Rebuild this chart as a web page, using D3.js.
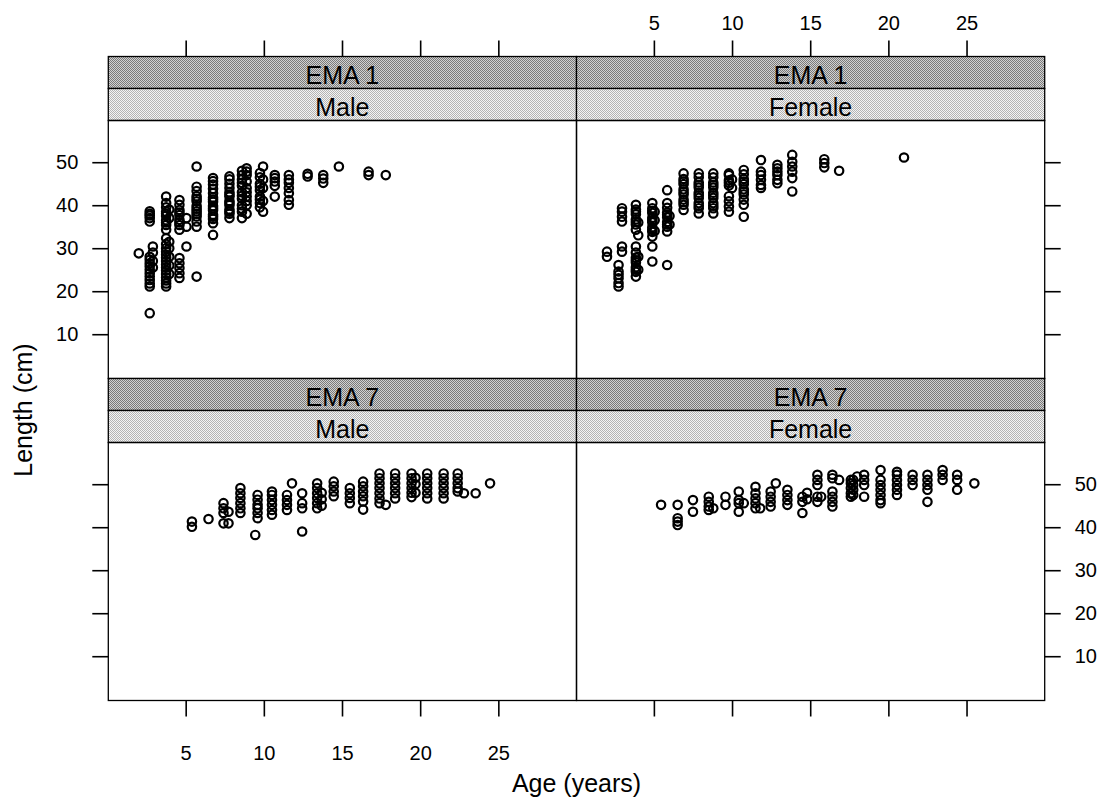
<!DOCTYPE html>
<html>
<head>
<meta charset="utf-8">
<script src="https://cdn.jsdelivr.net/npm/d3@7"></script>
<style>
  html, body { margin: 0; padding: 0; background: #fff; }
  svg { display: block; font-family: "Liberation Sans", Arial, sans-serif; }
</style>
</head>
<body>
<svg id="chart" width="1101" height="803"></svg>
<script>
// Age (years) vs length (cm), grouped by fishery area and sex.
// Each entry: [age, [lengths observed at that age]]
const ema1Male = [
  [2.0, [28.8]],
  [2.7, [14.9, 21.1, 21.8, 22.6, 23.4, 24.2, 25.0, 25.8, 26.5, 27.3, 28.0, 36.2, 37.0, 37.6, 38.0, 38.6]],
  [2.9, [25.5, 27.0, 29.0, 30.4]],
  [3.75, [21.1, 21.8, 22.5, 23.2, 24.0, 24.8, 25.5, 26.2, 27.0, 27.8, 28.5, 29.2, 30.0, 31.0, 32.3, 34.3, 35.4, 36.0, 36.5, 37.5, 38.0, 38.5, 39.5, 40.5, 42.0]],
  [3.95, [24.0, 26.0, 28.0, 30.0, 31.5, 37.0, 39.0]],
  [4.6, [23.1, 24.2, 25.4, 26.5, 27.7, 34.3, 35.4, 36.0, 36.6, 37.7, 38.3, 38.9, 40.1, 41.2]],
  [5.05, [30.4, 35.0, 37.0]],
  [5.7, [23.4, 35.0, 36.2, 37.4, 38.0, 38.6, 39.2, 39.8, 40.9, 41.5, 42.1, 43.3, 44.3, 49.0]],
  [6.75, [33.1, 35.8, 36.8, 37.3, 37.8, 38.8, 39.3, 39.8, 40.8, 41.3, 41.8, 42.8, 43.8, 44.8, 45.6, 46.3]],
  [7.8, [37.0, 38.0, 38.5, 39.0, 40.0, 40.5, 41.0, 42.0, 42.5, 43.0, 44.0, 45.0, 46.0, 46.7]],
  [8.6, [37.0, 38.5, 39.2, 40.0, 41.5, 42.2, 43.0, 44.5, 45.2, 46.0, 47.0, 48.0]],
  [8.9, [38.0, 40.0, 41.0, 42.0, 43.0, 44.0, 45.5, 47.0, 47.8, 48.6]],
  [9.75, [39.5, 40.5, 41.3, 42.0, 43.5, 44.3, 45.0, 46.5, 47.5]],
  [9.95, [38.5, 41.0, 44.0, 46.0, 49.0]],
  [10.7, [42.0, 44.5, 45.5, 46.3, 47.0]],
  [11.6, [40.1, 41.2, 42.8, 44.0, 45.2, 46.0, 47.0]],
  [12.8, [46.7, 47.3]],
  [13.8, [45.2, 46.2, 47.0]],
  [14.8, [49.0]],
  [16.7, [47.0, 47.8]],
  [17.8, [47.0]]
];

const ema1Female = [
  [2.0, [28.0, 29.2]],
  [2.74, [21.1, 21.9, 23.0, 23.8, 24.6, 26.1]],
  [2.96, [29.2, 30.4, 36.2, 37.3, 38.5, 39.3]],
  [3.85, [23.4, 24.5, 25.0, 25.6, 26.7, 27.2, 27.8, 29.0, 30.4, 34.3, 35.5, 36.1, 36.7, 37.9, 38.5, 39.0, 40.1]],
  [4.0, [25.0, 28.0, 33.0, 36.0]],
  [4.9, [26.9, 30.4, 32.7, 33.8, 34.3, 34.9, 36.0, 36.5, 37.1, 38.2, 38.7, 39.3, 40.5]],
  [5.05, [34.0, 36.5, 38.5]],
  [5.85, [26.1, 33.9, 35.0, 35.5, 36.1, 37.2, 37.8, 38.3, 39.4, 40.5, 43.5]],
  [6.0, [35.5, 37.5]],
  [6.9, [38.9, 40.1, 40.7, 41.3, 42.5, 43.1, 43.7, 44.9, 45.5, 46.1, 47.4]],
  [7.87, [38.1, 39.3, 39.9, 40.5, 41.7, 42.3, 42.9, 44.1, 44.7, 45.3, 46.5, 47.4]],
  [8.8, [38.1, 39.3, 39.9, 40.5, 41.7, 42.3, 42.9, 44.1, 44.7, 45.3, 46.5, 47.4]],
  [9.8, [38.5, 39.7, 40.9, 42.1, 44.6, 45.2, 45.8, 47.0, 47.4]],
  [10.0, [44.0, 46.0]],
  [10.75, [37.3, 40.1, 41.3, 42.5, 43.1, 43.7, 44.9, 45.5, 46.1, 47.2, 48.2]],
  [11.85, [44.0, 44.7, 45.9, 47.0, 47.8, 50.5]],
  [12.9, [45.1, 45.9, 47.0, 47.8, 48.6, 49.4]],
  [13.85, [43.2, 46.3, 47.8, 49.0, 50.1, 51.7]],
  [15.9, [48.8, 49.8, 50.7]],
  [16.85, [48.0]],
  [21.0, [51.1]]
];

const ema7Male = [
  [5.4, [40.1, 41.3]],
  [6.46, [41.9]],
  [7.42, [40.9, 43.3, 44.4, 45.6]],
  [7.74, [40.9, 43.6]],
  [8.5, [43.3, 44.4, 45.6, 46.8, 47.9, 49.1]],
  [9.45, [38.2]],
  [9.6, [42.1, 43.3, 44.4, 45.2, 46.4, 47.5]],
  [10.52, [42.9, 44.0, 45.2, 46.3, 47.5, 48.3]],
  [11.48, [44.0, 45.2, 46.3, 47.5]],
  [11.8, [50.2]],
  [12.45, [39.0, 44.4, 45.6, 47.9]],
  [13.41, [44.4, 45.6, 46.8, 47.9, 49.1, 50.2]],
  [13.7, [45.0, 46.5, 48.0]],
  [14.47, [47.2, 48.3, 49.5, 50.6]],
  [15.5, [45.6, 46.8, 47.9, 49.1]],
  [16.35, [44.1, 46.0, 47.2, 48.3, 49.5, 50.6]],
  [17.4, [45.6, 46.7, 47.9, 49.1, 50.2, 51.4, 52.5]],
  [17.8, [45.2]],
  [18.4, [46.7, 47.9, 49.1, 50.2, 51.4, 52.5]],
  [19.45, [47.0, 48.0, 49.1, 50.2, 51.4, 52.5]],
  [19.7, [48.0, 50.0, 51.5]],
  [20.45, [46.7, 47.9, 49.1, 50.2, 51.4, 52.5]],
  [21.5, [46.7, 47.9, 49.1, 50.2, 51.4, 52.5]],
  [22.4, [48.3, 49.1, 50.2, 51.4, 52.5]],
  [22.8, [47.9]],
  [23.55, [47.9]],
  [24.47, [50.2]]
];

const ema7Female = [
  [5.46, [45.2]],
  [6.52, [40.5, 41.3, 42.1, 45.2]],
  [7.5, [43.6, 46.3]],
  [8.51, [44.0, 44.8, 45.9, 47.1]],
  [8.8, [44.4]],
  [9.58, [45.2, 47.1]],
  [10.43, [43.6, 45.6, 46.3, 48.3]],
  [10.75, [45.6]],
  [11.5, [44.4, 45.6, 46.7, 47.9, 49.4]],
  [11.8, [44.4]],
  [12.47, [44.8, 45.9, 47.1, 48.3]],
  [12.8, [50.2]],
  [13.54, [45.2, 46.3, 47.5, 48.7]],
  [14.5, [43.3, 45.9, 47.1]],
  [14.8, [46.5, 48.0]],
  [15.46, [45.9, 47.1, 49.8, 51.0, 52.2]],
  [15.7, [47.1]],
  [16.42, [44.8, 45.9, 47.1, 48.3, 51.4, 52.2]],
  [16.85, [51.0]],
  [17.6, [47.1, 47.9, 49.1, 50.2, 51.0]],
  [17.75, [47.5, 48.7, 49.8, 51.0]],
  [18.0, [51.8]],
  [18.45, [47.1, 49.8, 51.0, 52.2]],
  [19.5, [45.6, 46.3, 47.5, 48.7, 49.8, 51.0, 53.3]],
  [20.55, [47.5, 48.7, 49.8, 51.0, 52.2, 52.9]],
  [21.55, [49.8, 51.0, 52.2]],
  [22.5, [45.9, 48.7, 49.8, 51.0, 52.2]],
  [23.47, [51.0, 52.2, 53.3]],
  [24.4, [48.7, 51.0, 52.2]],
  [25.5, [50.2]]
];

const areaLabels = ["EMA 1", "EMA 7"];
const sexLabels = ["Male", "Female"];
const xTicks = [5, 10, 15, 20, 25];
const yTicks = [10, 20, 30, 40, 50];

// panel grid: rows = area, columns = sex
const panels = [
  { row: 0, col: 0, area: areaLabels[0], sex: sexLabels[0], data: ema1Male },
  { row: 0, col: 1, area: areaLabels[0], sex: sexLabels[1], data: ema1Female },
  { row: 1, col: 0, area: areaLabels[1], sex: sexLabels[0], data: ema7Male },
  { row: 1, col: 1, area: areaLabels[1], sex: sexLabels[1], data: ema7Female }
];

const svg = d3.select("#chart");
const left = 108.3, panelW = 468.2;
const rowTop = [56.5, 378.5];
const stripH = 32, panelH = 258;

// strip shading patterns
const defs = svg.append("defs");
function checker(id, base, dot) {
  const p = defs.append("pattern").attr("id", id)
    .attr("width", 2).attr("height", 2).attr("patternUnits", "userSpaceOnUse");
  p.append("rect").attr("width", 2).attr("height", 2).attr("fill", base);
  p.append("rect").attr("x", 0).attr("y", 0).attr("width", 1).attr("height", 1).attr("fill", dot);
  p.append("rect").attr("x", 1).attr("y", 1).attr("width", 1).attr("height", 1).attr("fill", dot);
}
checker("stripOuter", "#d2d2d2", "#7a7a7a");
checker("stripInner", "#f4f4f4", "#b4b4b4");

const x = d3.scaleLinear().domain([0.05, 30]).range([0, panelW]);
const y = d3.scaleLinear().domain([-0.3, 59.7]).range([panelH, 0]);

const fontTick = 20, fontStrip = 25;

function styleAxis(g) {
  g.select(".domain").remove();
  g.selectAll(".tick line").attr("stroke", "#000").attr("stroke-width", 1.6);
  g.selectAll(".tick text").attr("font-size", fontTick).attr("fill", "#000")
    .attr("font-family", "\"Liberation Sans\", Arial, sans-serif");
}

panels.forEach(p => {
  const px = left + p.col * panelW;
  const top = rowTop[p.row];
  const g = svg.append("g");

  // strips
  const strips = [[p.area, "url(#stripOuter)"], [p.sex, "url(#stripInner)"]];
  strips.forEach((s, i) => {
    const sy = top + i * stripH;
    g.append("rect").attr("x", px).attr("y", sy).attr("width", panelW).attr("height", stripH)
      .attr("fill", s[1]).attr("stroke", "#000").attr("stroke-width", 1.3);
    g.append("text").attr("x", px + panelW / 2).attr("y", sy + stripH - 4.5)
      .attr("text-anchor", "middle").attr("font-size", fontStrip).attr("fill", "#000")
      .text(s[0]);
  });

  const py = top + 2 * stripH;
  const pg = g.append("g").attr("transform", `translate(${px},${py})`);

  // points
  const pts = [];
  p.data.forEach(([age, lens]) => lens.forEach(l => pts.push([age, l])));
  pg.selectAll("circle").data(pts).join("circle")
    .attr("cx", d => x(d[0])).attr("cy", d => y(d[1])).attr("r", 4.2)
    .attr("fill", "none").attr("stroke", "#000").attr("stroke-width", 2.2);

  // panel border
  pg.append("rect").attr("width", panelW).attr("height", panelH)
    .attr("fill", "none").attr("stroke", "#000").attr("stroke-width", 1.3);

  // y axes: labels on the left for the first row, on the right for the second
  if (p.col === 0) {
    const ax = d3.axisLeft(y).tickValues(yTicks).tickSize(16).tickPadding(14);
    if (p.row === 1) ax.tickFormat("");
    pg.append("g").call(ax).call(styleAxis);
  } else {
    const ax = d3.axisRight(y).tickValues(yTicks).tickSize(16).tickPadding(14);
    if (p.row === 0) ax.tickFormat("");
    pg.append("g").attr("transform", `translate(${panelW},0)`).call(ax).call(styleAxis);
  }

  // x axes: top above the first row, bottom below the second
  if (p.row === 0) {
    const ax = d3.axisTop(x).tickValues(xTicks).tickSize(16).tickPadding(11);
    if (p.col === 0) ax.tickFormat("");
    svg.append("g").attr("transform", `translate(${px},${top})`).call(ax).call(styleAxis);
  } else {
    const ax = d3.axisBottom(x).tickValues(xTicks).tickSize(16).tickPadding(29);
    if (p.col === 1) ax.tickFormat("");
    pg.append("g").attr("transform", `translate(0,${panelH})`).call(ax).call(styleAxis);
  }
});

// axis titles
svg.append("text").attr("x", left + panelW).attr("y", 792)
  .attr("text-anchor", "middle").attr("font-size", fontStrip).attr("fill", "#000")
  .text("Age (years)");
svg.append("text").attr("transform", "translate(32,410) rotate(-90)")
  .attr("text-anchor", "middle").attr("font-size", fontStrip).attr("fill", "#000")
  .text("Length (cm)");
</script>
</body>
</html>
